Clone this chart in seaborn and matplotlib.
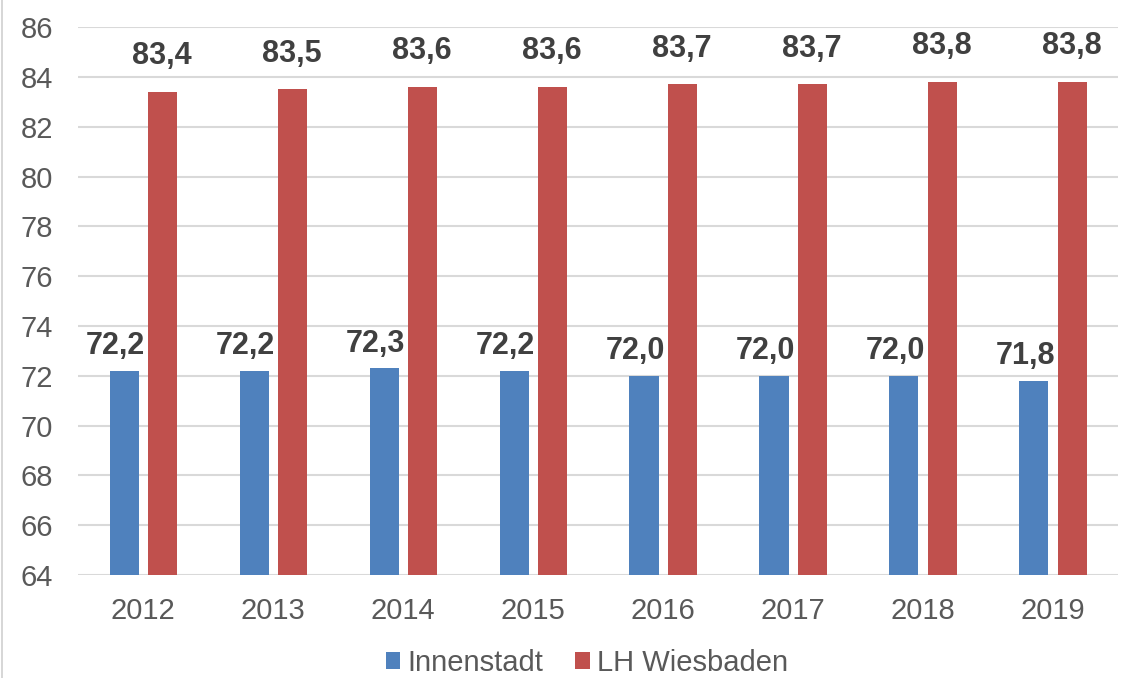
import numpy as np
import pandas as pd
import matplotlib
matplotlib.use("Agg")
import matplotlib.pyplot as plt
from matplotlib.lines import Line2D
import seaborn as sns

# data
years = ["2012", "2013", "2014", "2015", "2016", "2017", "2018", "2019"]
innenstadt = [72.2, 72.2, 72.3, 72.2, 72.0, 72.0, 72.0, 71.8]
wiesbaden = [83.4, 83.5, 83.6, 83.6, 83.7, 83.7, 83.8, 83.8]
series_names = ["Innenstadt", "LH Wiesbaden"]
y_ticks = list(range(64, 87, 2))

colors = ["#4F81BD", "#C0504D"]

df = pd.DataFrame({
    "Jahr": years * 2,
    "Wert": innenstadt + wiesbaden,
    "Gebiet": [series_names[0]] * len(years) + [series_names[1]] * len(years),
})

sns.set_style("white")
plt.rcParams["font.family"] = ["Liberation Sans", "DejaVu Sans"]

fig = plt.figure(figsize=(11.31, 6.78), dpi=100)
ax = fig.add_axes([0.069, 0.152, 0.9195, 0.808])

sns.barplot(
    data=df, x="Jahr", y="Wert", hue="Gebiet",
    palette=colors, saturation=1, width=0.585, gap=0.237,
    linewidth=0, ax=ax, zorder=3,
)

ax.set_ylim(64, 86)
ax.set_yticks(y_ticks)
ax.set_xlim(-0.5, len(years) - 0.5)
ax.yaxis.grid(True, color="#D9D9D9", linewidth=1.5, zorder=0)
ax.set_axisbelow(True)
for s in ax.spines.values():
    s.set_visible(False)
ax.tick_params(axis="both", length=0, labelsize=21, labelcolor="#595959")
ax.tick_params(axis="x", pad=16)
ax.tick_params(axis="y", pad=18)
ax.set_xlabel("")
ax.set_ylabel("")

# value labels (Excel pushes the blue ones a bit left and lower)
for i, cont in enumerate(ax.containers):
    dx, dy = (-6, 7) if i == 0 else (0, 15)
    for bar in cont:
        h = bar.get_height()
        ax.annotate(
            f"{h:.1f}".replace(".", ","),
            xy=(bar.get_x() + bar.get_width() / 2, h),
            xytext=(dx, dy), textcoords="offset points",
            ha="center", va="bottom", fontsize=22,
            fontweight="bold", color="#404040",
        )

handles, labels = ax.get_legend_handles_labels()
ax.get_legend().remove()
fig.legend(
    handles, labels, loc="center", bbox_to_anchor=(587 / 1131, 1 - 663 / 678),
    ncol=2, frameon=False, fontsize=21, labelcolor="#595959",
    handlelength=0.5, handleheight=0.5, handletextpad=0.25, columnspacing=1.1,
)

fig.add_artist(Line2D([0.002, 0.002], [0, 1], color="#D0D0D0", linewidth=1.2))

fig.savefig("out.png", dpi=100)
